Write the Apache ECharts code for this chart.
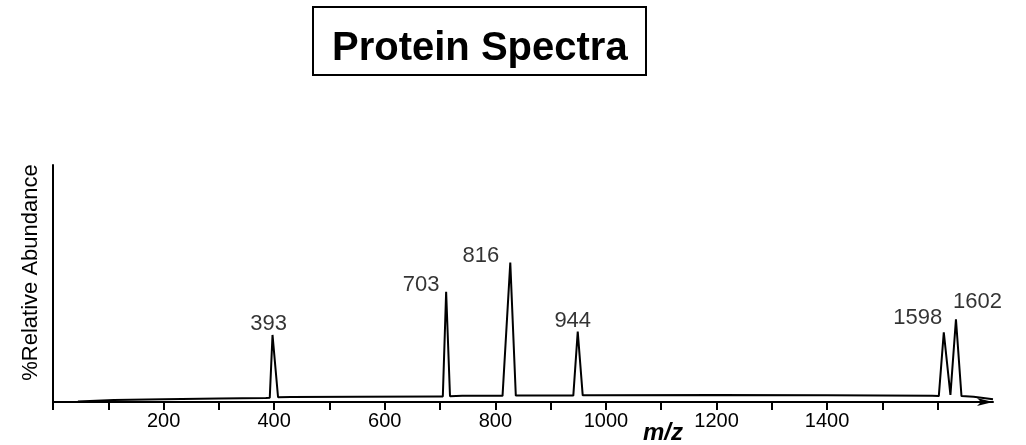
<!DOCTYPE html>
<html>
<head>
<meta charset="utf-8">
<script src="https://cdn.jsdelivr.net/npm/echarts@6/dist/echarts.min.js"></script>
<style>
  html, body { margin: 0; padding: 0; background: #fff; }
  #main { width: 1026px; height: 445px; }
</style>
</head>
<body>
<div id="main"></div>
<script>
// m/z positions of the trace as drawn
const specX = [45, 110, 200, 300, 385, 392, 397, 398, 407, 430, 550, 700,
  705, 711, 712, 718, 740, 813, 827, 830, 837, 860, 941, 949, 950, 958,
  980, 1200, 1400, 1590, 1602, 1611, 1612, 1623, 1633, 1635, 1643, 1665, 1700]
// % relative abundance at those points
const specY = [0.2, 0.8, 1.2, 1.5, 1.7, 1.8, 28.3, 28.3, 2.0, 2.1, 2.2, 2.3,
  2.3, 46.5, 46.5, 2.4, 2.6, 2.6, 58.8, 58.8, 2.7, 2.7, 2.7, 29.7, 29.7, 2.8,
  2.9, 3.0, 2.9, 2.6, 2.5, 29.4, 29.4, 3.0, 34.9, 34.9, 2.5, 2.2, 1.2]

// labelled peaks: apex position, apex height, label text
const peakX = [397, 711, 828, 949, 1611, 1634]
const peakY = [28.3, 46.5, 58.8, 29.7, 29.4, 34.9]
const peakLabels = ['393', '703', '816', '944', '1598', '1602']

const tickValues = [0, 100, 200, 300, 400, 500, 600, 700, 800, 900, 1000, 1100, 1200, 1300, 1400, 1500, 1600]
const labelValues = [200, 400, 600, 800, 1000, 1200, 1400]

// where each peak label sits relative to its apex
const labelOffsets = [[-4, 0], [-25, 4], [-30, 4], [-5, 0], [-26, -3], [21, -6]]

const FONT = 'Liberation Sans, Arial, sans-serif'

const chart = echarts.init(document.getElementById('main'))

chart.setOption({
  animation: false,
  backgroundColor: '#fff',
  title: {
    text: 'Protein Spectra',
    left: 313,
    top: 7,
    padding: [19, 19, 3, 19],
    borderColor: '#000',
    borderWidth: 2,
    textStyle: {
      fontFamily: FONT,
      fontSize: 40,
      fontWeight: 'bold',
      color: '#000',
      lineHeight: 46
    }
  },
  grid: {
    left: 53,
    right: 33,
    top: 165,
    bottom: 43,
    outerBoundsMode: 'none'
  },
  xAxis: {
    type: 'value',
    min: 0,
    max: 1700,
    interval: 100,
    name: 'm/z',
    nameLocation: 'middle',
    nameGap: 19,
    nameMoveOverlap: false,
    nameTextStyle: {
      fontFamily: FONT,
      fontSize: 24,
      fontWeight: 'bold',
      fontStyle: 'italic',
      color: '#000',
      padding: [0, 0, 0, 280]
    },
    axisLine: {
      show: true,
      symbol: ['none', 'arrow'],
      symbolSize: [6, 16],
      lineStyle: { color: '#000', width: 2 }
    },
    axisTick: {
      show: true,
      inside: false,
      length: 8,
      customValues: tickValues,
      lineStyle: { color: '#000', width: 2 }
    },
    axisLabel: {
      customValues: labelValues,
      formatter: v => String(v),
      margin: 9,
      fontFamily: FONT,
      fontSize: 20,
      color: '#000'
    },
    splitLine: { show: false }
  },
  yAxis: {
    type: 'value',
    min: 0,
    max: 100,
    name: '%Relative Abundance',
    nameLocation: 'middle',
    nameGap: 11,
    nameTextStyle: {
      fontFamily: FONT,
      fontSize: 22,
      color: '#000',
      padding: [0, 0, 0, 22]
    },
    axisLine: {
      show: true,
      lineStyle: { color: '#000', width: 2 }
    },
    axisTick: { show: false },
    axisLabel: { show: false },
    splitLine: { show: false }
  },
  series: [
    {
      type: 'line',
      data: specX.map((x, i) => [x, specY[i]]),
      symbol: 'none',
      smooth: false,
      lineStyle: { color: '#000', width: 2 }
    },
    {
      type: 'scatter',
      symbolSize: 0,
      silent: true,
      data: peakX.map((x, i) => ({
        name: peakLabels[i],
        value: [x, peakY[i]],
        label: { offset: labelOffsets[i] }
      })),
      label: {
        show: true,
        position: 'top',
        distance: 0,
        formatter: '{b}',
        fontFamily: FONT,
        fontSize: 22,
        color: '#000'
      }
    }
  ]
})
</script>
</body>
</html>
